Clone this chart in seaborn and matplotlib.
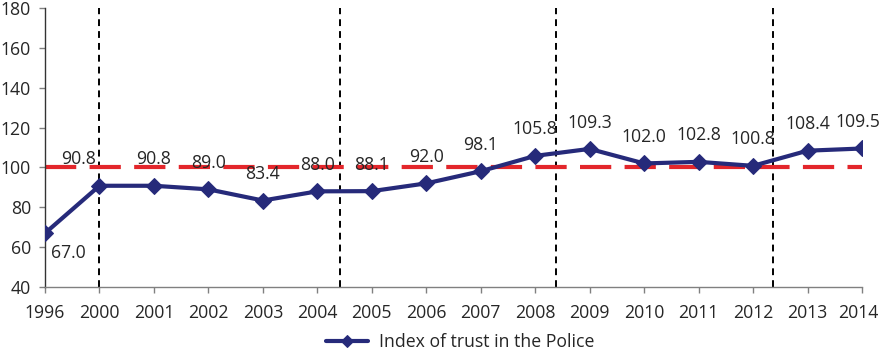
import matplotlib
matplotlib.use("Agg")
import matplotlib.pyplot as plt
import matplotlib.transforms as mtransforms
import seaborn as sns
import pandas as pd

years = ["1996", "2000", "2001", "2002", "2003", "2004", "2005", "2006",
         "2007", "2008", "2009", "2010", "2011", "2012", "2013", "2014"]
trust_index = [67.0, 90.8, 90.8, 89.0, 83.4, 88.0, 88.1, 92.0,
               98.1, 105.8, 109.3, 102.0, 102.8, 100.8, 108.4, 109.5]
reference_level = 100
period_breaks = [1.0, 5.42, 9.39, 13.36]
series_name = "Index of trust in the Police"

sns.set_theme(style="white")
plt.rcParams["font.family"] = ["Open Sans", "DejaVu Sans"]

df = pd.DataFrame({"pos": range(len(years)), "value": trust_index})

fig = plt.figure(figsize=(8.8, 3.58), dpi=100)
ax = fig.add_axes([45 / 880, 1 - 287 / 358, (862 - 45) / 880, (287 - 8) / 358])

navy = "#262A7A"
red = "#E3262B"
fs = 12.7

ax.axhline(reference_level, color=red, lw=3, dashes=(7.5, 3.2), zorder=2)
for b in period_breaks:
    ax.axvline(b, color="black", lw=1.4, dashes=(3.5, 2.6), zorder=1)

sns.lineplot(data=df, x="pos", y="value", ax=ax, color=navy, lw=3,
             marker="D", markersize=8, markeredgecolor=navy,
             label=series_name, zorder=3)

last = len(trust_index) - 1
for i, v in enumerate(trust_index):
    if i == 0:
        off = (17, -14)
    elif i == 1:
        off = (-15, 19)
    elif i == last:
        off = (-3, 19)
    else:
        off = (0, 19)
    ax.annotate(f"{v:.1f}", (i, v), xytext=off, textcoords="offset points",
                ha="center", va="center", fontsize=fs, color="#262626", zorder=4)

ax.set_xlim(0, len(years) - 1)
ax.set_ylim(40, 180)
ax.set_yticks(range(40, 181, 20))
ax.set_xticks(range(len(years)))
ax.set_xticklabels(years)
ax.set_xlabel("")
ax.set_ylabel("")
ax.tick_params(axis="both", labelsize=fs, labelcolor="#262626",
               length=4, width=1, color="#808080", direction="out",
               bottom=True, left=True)
ax.tick_params(axis="x", pad=8)
ax.tick_params(axis="y", pad=6)
for s in ["top", "right"]:
    ax.spines[s].set_visible(False)
ax.spines["left"].set_color("#333333")
ax.spines["bottom"].set_color("#808080")
ax.spines["left"].set_linewidth(1)
ax.spines["bottom"].set_linewidth(1)
ax.patch.set_alpha(0)

lbl = ax.get_xticklabels()[-1]
lbl.set_transform(lbl.get_transform() +
                  mtransforms.ScaledTranslation(-3 / 72, 0, fig.dpi_scale_trans))

leg = ax.legend(loc="lower center", bbox_to_anchor=(0.523, -0.015), bbox_transform=fig.transFigure,
                frameon=False, fontsize=fs, handlelength=2.4, handletextpad=0.6,
                borderpad=0.2, markerscale=0.8)

fig.savefig("out.png", dpi=100)
